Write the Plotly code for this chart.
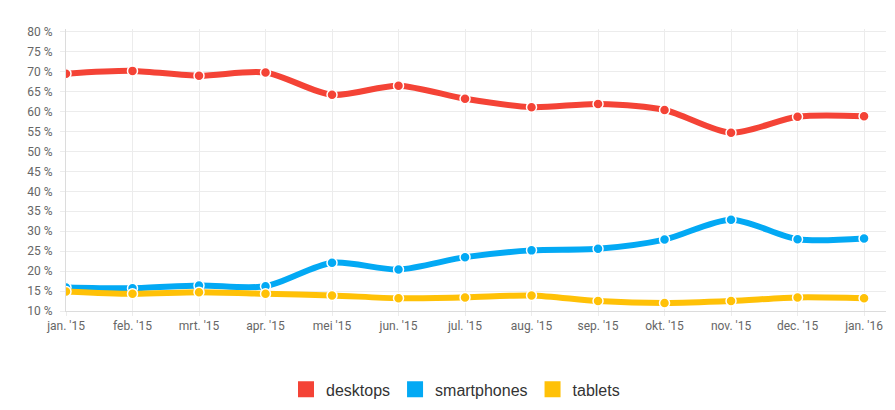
import plotly.graph_objects as go

months = ["jan. '15", "feb. '15", "mrt. '15", "apr. '15", "mei '15", "jun. '15", "jul. '15",
          "aug. '15", "sep. '15", "okt. '15", "nov. '15", "dec. '15", "jan. '16"]
desktops = [69.5, 70.2, 69.0, 69.8, 64.2, 66.5, 63.2, 61.1, 61.9, 60.4, 54.7, 58.7, 58.8]
smartphones = [15.9, 15.7, 16.4, 16.2, 22.1, 20.4, 23.5, 25.2, 25.6, 27.9, 32.9, 28.0, 28.2]
tablets = [14.9, 14.3, 14.7, 14.3, 13.9, 13.2, 13.4, 13.9, 12.5, 12.0, 12.5, 13.4, 13.2]
yticks = list(range(10, 81, 5))
ytick_labels = [f"{v} %" for v in yticks]

series = [("desktops", desktops, "#F44336"),
          ("smartphones", smartphones, "#03A9F4"),
          ("tablets", tablets, "#FFC107")]

fig = go.Figure()
xi = list(range(len(months)))
for name, vals, col in series:
    fig.add_trace(go.Scatter(
        x=xi, y=vals, mode="lines+markers", name=name, showlegend=False,
        line=dict(color=col, width=6, shape="spline", smoothing=0.8),
        marker=dict(size=10, color=col, line=dict(color="white", width=1.5)),
        hovertemplate="%{y} %<extra>" + name + "</extra>"))
for name, vals, col in series:
    fig.add_trace(go.Scatter(
        x=[None], y=[None], mode="markers", name=name, showlegend=True,
        marker=dict(symbol="square", size=16, color=col)))

grid = "#ececec"
fig.update_layout(
    width=895, height=410,
    margin=dict(l=58, r=17, t=21, b=101),
    paper_bgcolor="white", plot_bgcolor="white",
    font=dict(family="Roboto", size=12, color="#666"),
    legend=dict(orientation="h", x=0.475, xanchor="center",
                y=-0.278, yanchor="middle",
                font=dict(family="Liberation Sans, Arial", size=16, color="#333"),
                itemwidth=30, itemsizing="trace"),
    xaxis=dict(range=[0, 12.33], tickmode="array", tickvals=xi, ticktext=months,
               showgrid=True, gridcolor=grid, zeroline=False, automargin=False,
               showline=True, linecolor="#dcdcdc", ticks="outside", ticklen=4,
               tickcolor=grid, tickfont=dict(size=12, color="#666")),
    yaxis=dict(range=[10, 80.7], tickmode="array", tickvals=yticks, ticktext=ytick_labels,
               showgrid=True, gridcolor=grid, zeroline=False, automargin=False,
               showline=True, linecolor="#dcdcdc", ticks="outside", ticklen=5,
               ticklabelstandoff=5,
               tickcolor=grid, tickfont=dict(size=12, color="#666")),
)
fig.write_html("out.html")
